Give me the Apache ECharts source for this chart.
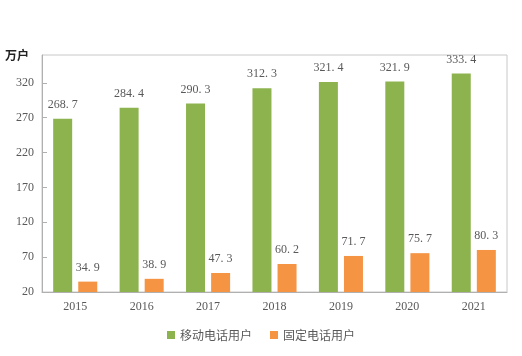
<!DOCTYPE html>
<html>
<head>
<meta charset="utf-8">
<script src="https://cdn.jsdelivr.net/npm/echarts@6/dist/echarts.min.js"></script>
<style>html,body{margin:0;padding:0;background:#fff;}#c{width:522px;height:356px;}</style>
</head>
<body>
<div id="c"></div>
<script>
var years = ['2015','2016','2017','2018','2019','2020','2021'];
var mobileUsers = [268.7, 284.4, 290.3, 312.3, 321.4, 321.9, 333.4];
var fixedUsers = [34.9, 38.9, 47.3, 60.2, 71.7, 75.7, 80.3];
var yTicks = [20, 70, 120, 170, 220, 270, 320];
var seriesNames = ['移动电话用户', '固定电话用户'];

var serif = '"Liberation Serif","DejaVu Serif",serif';
var chart = echarts.init(document.getElementById('c'));
function fmt(p){ return p.value.toFixed(1).replace('.', '. '); }
chart.setOption({
  animation: false,
  grid: {left: 42, right: 15, top: 55, bottom: 64, show: true, borderColor: '#c8c8c8', borderWidth: 1},
  legend: {
    bottom: 10, left: 'center', itemWidth: 8, itemHeight: 8, itemGap: 18,
    icon: 'rect',
    textStyle: {color: '#595959', fontSize: 12, fontFamily: '"Noto Sans CJK SC",sans-serif'},
    data: seriesNames
  },
  xAxis: {
    type: 'category', data: years,
    axisLine: {lineStyle: {color: '#b0b0b0'}},
    axisTick: {show: false},
    axisLabel: {color: '#595959', fontSize: 12, fontFamily: serif, margin: 9}
  },
  yAxis: {
    type: 'value', min: 20, max: 360,
    name: '万户', nameLocation: 'end', nameGap: 0,
    nameTextStyle: {color: '#222', fontSize: 12, fontWeight: 'bold', fontFamily: '"Noto Sans CJK SC",sans-serif', align: 'right', verticalAlign: 'middle', padding: [0, 13, 4, 0]},
    axisLine: {show: true, lineStyle: {color: '#b0b0b0'}},
    axisTick: {show: true, inside: true, length: 5, customValues: yTicks, lineStyle: {color: '#b0b0b0'}},
    splitLine: {show: false},
    axisLabel: {color: '#595959', fontSize: 12, fontFamily: serif, margin: 8, customValues: yTicks}
  },
  series: [
    {name: seriesNames[0], type: 'bar', data: mobileUsers, barWidth: 19, barGap: '32%',
     itemStyle: {color: '#8db34e'},
     label: {show: true, position: 'top', distance: 8, color: '#595959', fontSize: 12, fontFamily: serif, formatter: fmt}},
    {name: seriesNames[1], type: 'bar', data: fixedUsers, barWidth: 19,
     itemStyle: {color: '#f59443'},
     label: {show: true, position: 'top', distance: 8, color: '#595959', fontSize: 12, fontFamily: serif, formatter: fmt}}
  ]
});
</script>
</body>
</html>
